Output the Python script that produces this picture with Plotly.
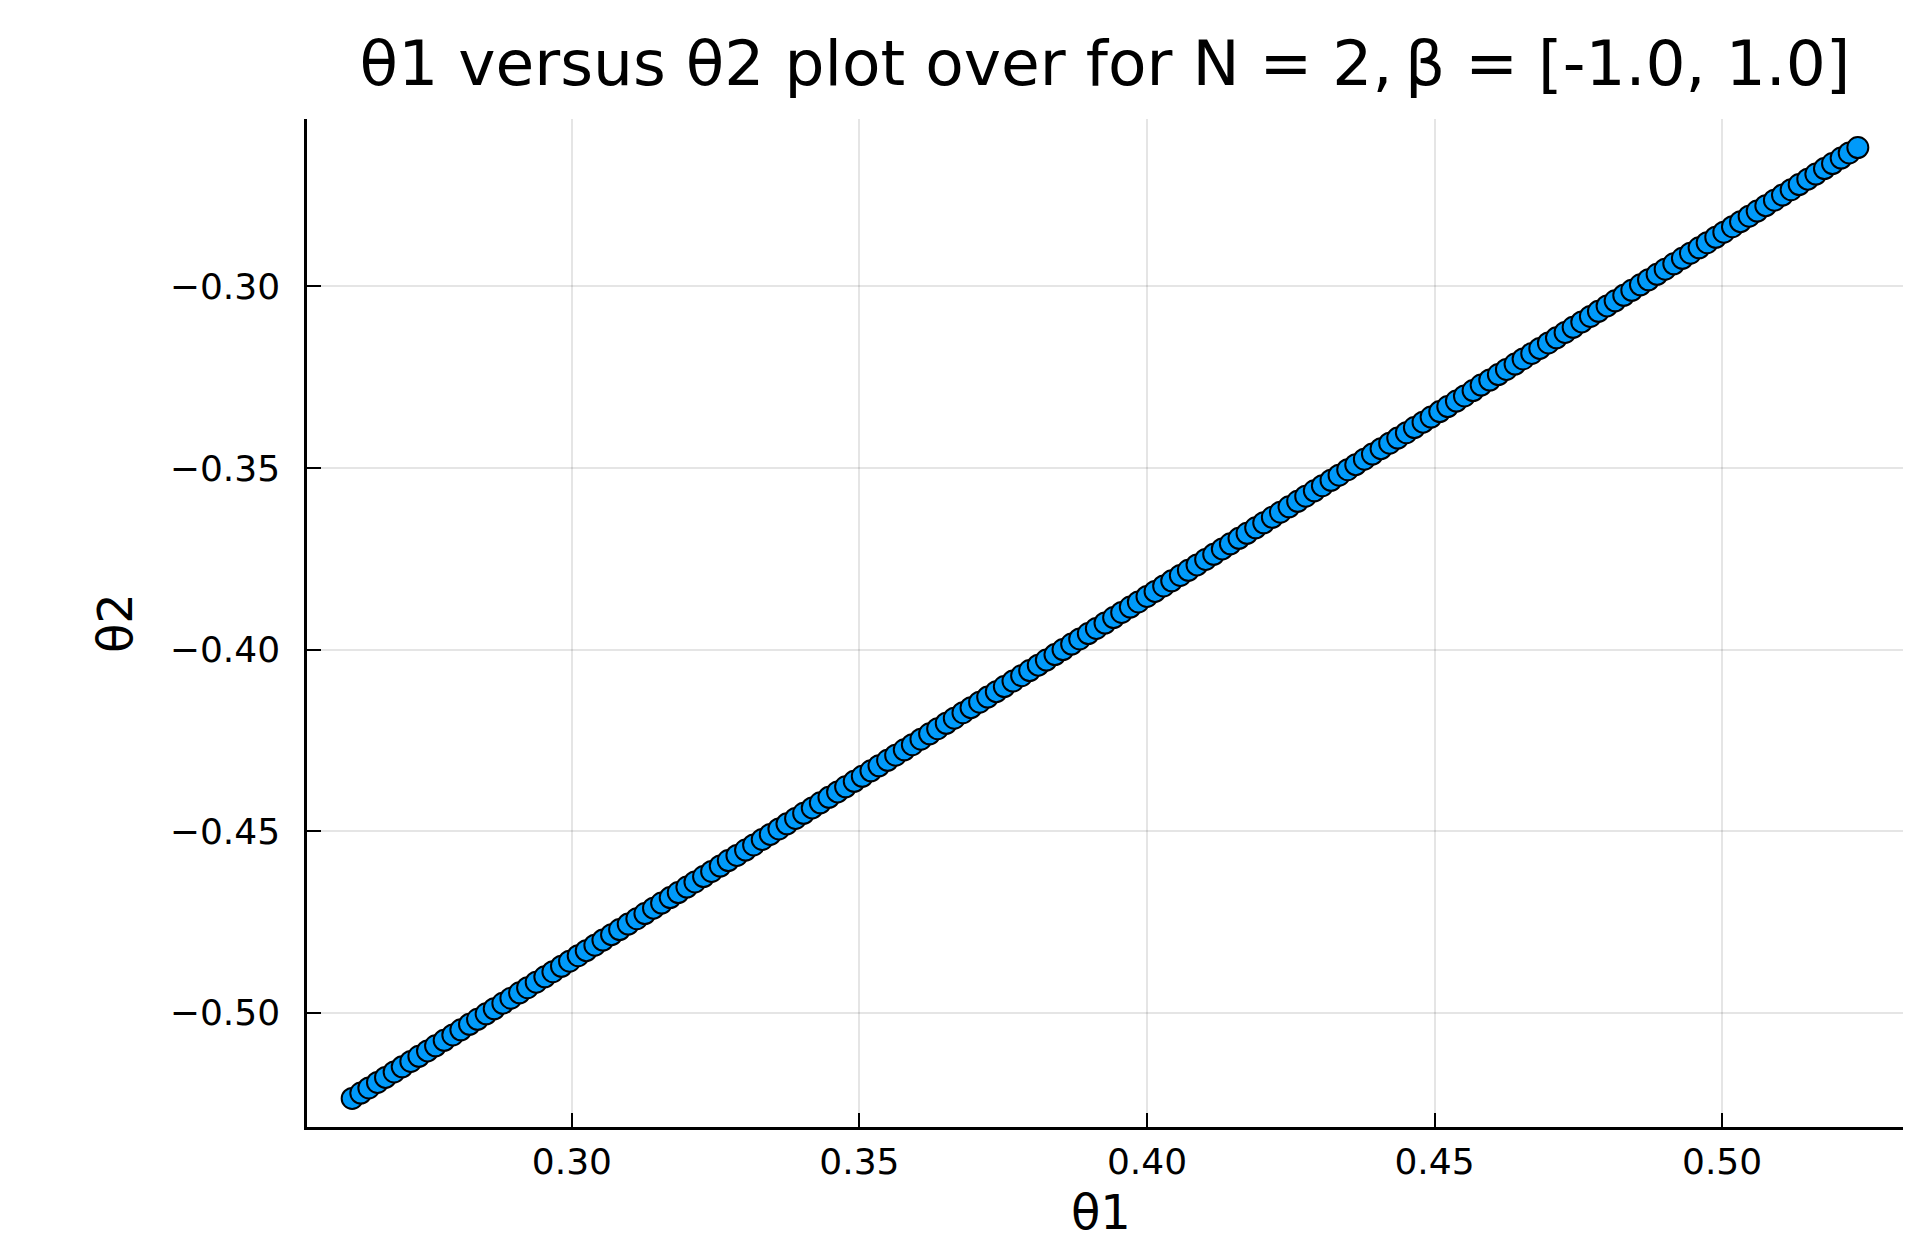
import plotly.graph_objects as go

theta1 = [
    0.2618, 0.2633, 0.2647, 0.2662, 0.2676, 0.2691, 0.2705, 0.2720, 0.2734, 0.2749, 0.2763, 0.2778,
    0.2793, 0.2807, 0.2822, 0.2836, 0.2851, 0.2865, 0.2880, 0.2894, 0.2909, 0.2923, 0.2938, 0.2953,
    0.2967, 0.2982, 0.2996, 0.3011, 0.3025, 0.3040, 0.3054, 0.3069, 0.3083, 0.3098, 0.3113, 0.3127,
    0.3142, 0.3156, 0.3171, 0.3185, 0.3200, 0.3214, 0.3229, 0.3243, 0.3258, 0.3272, 0.3287, 0.3302,
    0.3316, 0.3331, 0.3345, 0.3360, 0.3374, 0.3389, 0.3403, 0.3418, 0.3432, 0.3447, 0.3462, 0.3476,
    0.3491, 0.3505, 0.3520, 0.3534, 0.3549, 0.3563, 0.3578, 0.3592, 0.3607, 0.3622, 0.3636, 0.3651,
    0.3665, 0.3680, 0.3694, 0.3709, 0.3723, 0.3738, 0.3752, 0.3767, 0.3782, 0.3796, 0.3811, 0.3825,
    0.3840, 0.3854, 0.3869, 0.3883, 0.3898, 0.3912, 0.3927, 0.3942, 0.3956, 0.3971, 0.3985, 0.4000,
    0.4014, 0.4029, 0.4043, 0.4058, 0.4072, 0.4087, 0.4102, 0.4116, 0.4131, 0.4145, 0.4160, 0.4174,
    0.4189, 0.4203, 0.4218, 0.4232, 0.4247, 0.4262, 0.4276, 0.4291, 0.4305, 0.4320, 0.4334, 0.4349,
    0.4363, 0.4378, 0.4392, 0.4407, 0.4422, 0.4436, 0.4451, 0.4465, 0.4480, 0.4494, 0.4509, 0.4523,
    0.4538, 0.4552, 0.4567, 0.4581, 0.4596, 0.4611, 0.4625, 0.4640, 0.4654, 0.4669, 0.4683, 0.4698,
    0.4712, 0.4727, 0.4741, 0.4756, 0.4771, 0.4785, 0.4800, 0.4814, 0.4829, 0.4843, 0.4858, 0.4872,
    0.4887, 0.4901, 0.4916, 0.4931, 0.4945, 0.4960, 0.4974, 0.4989, 0.5003, 0.5018, 0.5032, 0.5047,
    0.5061, 0.5076, 0.5091, 0.5105, 0.5120, 0.5134, 0.5149, 0.5163, 0.5178, 0.5192, 0.5207, 0.5221,
    0.5236,
]

theta2 = [
    -0.5236, -0.5221, -0.5207, -0.5192, -0.5178, -0.5163, -0.5149, -0.5134, -0.5120, -0.5105, -0.5091, -0.5076,
    -0.5061, -0.5047, -0.5032, -0.5018, -0.5003, -0.4989, -0.4974, -0.4960, -0.4945, -0.4931, -0.4916, -0.4901,
    -0.4887, -0.4872, -0.4858, -0.4843, -0.4829, -0.4814, -0.4800, -0.4785, -0.4771, -0.4756, -0.4741, -0.4727,
    -0.4712, -0.4698, -0.4683, -0.4669, -0.4654, -0.4640, -0.4625, -0.4611, -0.4596, -0.4581, -0.4567, -0.4552,
    -0.4538, -0.4523, -0.4509, -0.4494, -0.4480, -0.4465, -0.4451, -0.4436, -0.4422, -0.4407, -0.4392, -0.4378,
    -0.4363, -0.4349, -0.4334, -0.4320, -0.4305, -0.4291, -0.4276, -0.4262, -0.4247, -0.4232, -0.4218, -0.4203,
    -0.4189, -0.4174, -0.4160, -0.4145, -0.4131, -0.4116, -0.4102, -0.4087, -0.4072, -0.4058, -0.4043, -0.4029,
    -0.4014, -0.4000, -0.3985, -0.3971, -0.3956, -0.3942, -0.3927, -0.3912, -0.3898, -0.3883, -0.3869, -0.3854,
    -0.3840, -0.3825, -0.3811, -0.3796, -0.3782, -0.3767, -0.3752, -0.3738, -0.3723, -0.3709, -0.3694, -0.3680,
    -0.3665, -0.3651, -0.3636, -0.3622, -0.3607, -0.3592, -0.3578, -0.3563, -0.3549, -0.3534, -0.3520, -0.3505,
    -0.3491, -0.3476, -0.3462, -0.3447, -0.3432, -0.3418, -0.3403, -0.3389, -0.3374, -0.3360, -0.3345, -0.3331,
    -0.3316, -0.3302, -0.3287, -0.3272, -0.3258, -0.3243, -0.3229, -0.3214, -0.3200, -0.3185, -0.3171, -0.3156,
    -0.3142, -0.3127, -0.3113, -0.3098, -0.3083, -0.3069, -0.3054, -0.3040, -0.3025, -0.3011, -0.2996, -0.2982,
    -0.2967, -0.2953, -0.2938, -0.2923, -0.2909, -0.2894, -0.2880, -0.2865, -0.2851, -0.2836, -0.2822, -0.2807,
    -0.2793, -0.2778, -0.2763, -0.2749, -0.2734, -0.2720, -0.2705, -0.2691, -0.2676, -0.2662, -0.2647, -0.2633,
    -0.2618,
]

x_ticks = [0.30, 0.35, 0.40, 0.45, 0.50]
x_tick_labels = ["0.30", "0.35", "0.40", "0.45", "0.50"]
y_ticks = [-0.30, -0.35, -0.40, -0.45, -0.50]
y_tick_labels = ["\u22120.30", "\u22120.35", "\u22120.40", "\u22120.45", "\u22120.50"]

title_text = "\u03b81 versus \u03b82 plot over for N = 2,\u2009\u03b2 = [-1.0, 1.0]"
x_title = "\u03b81"
y_title = "\u03b82"

FONT = "DejaVu Sans"
W, H = 1918, 1239
L, R, T, B = 307, 15, 119, 112

xmin, xmax = min(theta1), max(theta1)
ymin, ymax = min(theta2), max(theta2)
xpad = 0.03 * (xmax - xmin)
ypad = 0.03 * (ymax - ymin)

fig = go.Figure()
fig.add_trace(go.Scatter(
    x=theta1, y=theta2, mode="markers",
    marker=dict(size=21, color="#009AFA", line=dict(color="black", width=2)),
    showlegend=False,
))

axis_common = dict(
    showgrid=True, gridcolor="rgba(0,0,0,0.1)", gridwidth=1.5,
    zeroline=False, showline=True, linecolor="black", linewidth=2.5,
    ticks="inside", ticklen=14, tickwidth=2, tickcolor="black",
    tickfont=dict(family=FONT, size=36, color="black"),
    mirror=False,
)

fig.update_layout(
    width=W, height=H,
    margin=dict(l=L, r=R, t=T, b=B, autoexpand=False),
    paper_bgcolor="white", plot_bgcolor="white",
    title=dict(text=title_text, font=dict(family=FONT, size=63, color="black"),
               x=0.5, xref="paper", xanchor="center",
               y=1 - 63 / H, yref="container", yanchor="middle"),
    xaxis=dict(range=[xmin - xpad, xmax + xpad], tickvals=x_ticks, ticktext=x_tick_labels,
               ticklabelstandoff=1, **axis_common),
    yaxis=dict(range=[ymin - ypad, ymax + ypad], tickvals=y_ticks, ticktext=y_tick_labels,
               ticklabelstandoff=17, **axis_common),
    showlegend=False,
)

fig.add_annotation(text=x_title, xref="paper", yref="paper", x=0.5, y=0,
                   xanchor="center", yanchor="middle", xshift=-4, yshift=-85,
                   showarrow=False, font=dict(family=FONT, size=48, color="black"))
fig.add_annotation(text=y_title, xref="paper", yref="paper", x=0, y=0.5,
                   xanchor="center", yanchor="middle", xshift=-192, textangle=-90,
                   showarrow=False, font=dict(family=FONT, size=48, color="black"))

fig.write_html("out.html",
               config={"displayModeBar": False},
               post_script="document.body.style.margin='0';document.body.style.overflow='hidden';")
